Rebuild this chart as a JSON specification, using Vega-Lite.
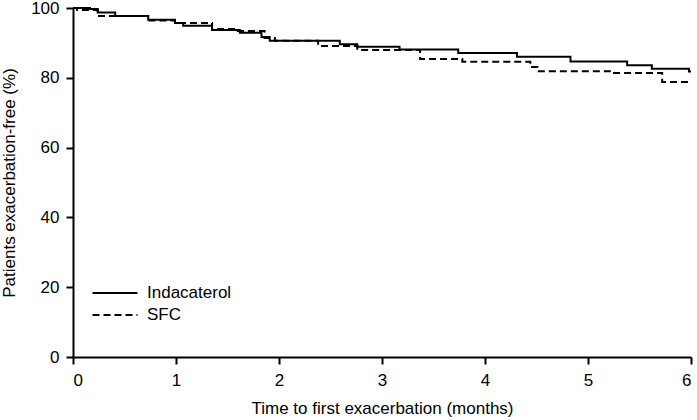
{
  "$schema": "https://vega.github.io/schema/vega-lite/v6.json",
  "width": 618,
  "height": 349,
  "autosize": "none",
  "padding": {"left": 73, "top": 8, "right": 6, "bottom": 63},
  "background": "white",
  "config": {
    "font": "Liberation Sans",
    "view": {"stroke": null},
    "axis": {
      "grid": false,
      "domainColor": "black",
      "domainWidth": 2,
      "tickColor": "black",
      "tickWidth": 2,
      "labelColor": "black",
      "titleColor": "black",
      "labelFontSize": 17,
      "titleFontSize": 17,
      "titleFontWeight": "normal",
      "labelFont": "Liberation Sans",
      "titleFont": "Liberation Sans"
    }
  },
  "data": {
    "values": [
      {"series": "Indacaterol", "month": 0, "pct": 100},
      {"series": "Indacaterol", "month": 0.165, "pct": 99.7},
      {"series": "Indacaterol", "month": 0.24, "pct": 98.7},
      {"series": "Indacaterol", "month": 0.41, "pct": 97.7},
      {"series": "Indacaterol", "month": 0.73, "pct": 96.6},
      {"series": "Indacaterol", "month": 0.99, "pct": 95.7},
      {"series": "Indacaterol", "month": 1.07, "pct": 94.9},
      {"series": "Indacaterol", "month": 1.35, "pct": 93.7},
      {"series": "Indacaterol", "month": 1.62, "pct": 92.9},
      {"series": "Indacaterol", "month": 1.83, "pct": 91.7},
      {"series": "Indacaterol", "month": 1.91, "pct": 90.6},
      {"series": "Indacaterol", "month": 2.59, "pct": 89.6},
      {"series": "Indacaterol", "month": 2.76, "pct": 88.9},
      {"series": "Indacaterol", "month": 3.17, "pct": 88.1},
      {"series": "Indacaterol", "month": 3.74, "pct": 87.1},
      {"series": "Indacaterol", "month": 4.31, "pct": 86.0},
      {"series": "Indacaterol", "month": 4.83, "pct": 84.7},
      {"series": "Indacaterol", "month": 5.38, "pct": 83.6},
      {"series": "Indacaterol", "month": 5.62, "pct": 82.6},
      {"series": "Indacaterol", "month": 5.98, "pct": 81.8},
      {"series": "Indacaterol", "month": 6.0, "pct": 81.8},
      {"series": "SFC", "month": 0, "pct": 100},
      {"series": "SFC", "month": 0.04, "pct": 99.4},
      {"series": "SFC", "month": 0.24, "pct": 97.7},
      {"series": "SFC", "month": 0.73, "pct": 96.4},
      {"series": "SFC", "month": 0.99, "pct": 95.7},
      {"series": "SFC", "month": 1.35, "pct": 94.0},
      {"series": "SFC", "month": 1.6, "pct": 93.4},
      {"series": "SFC", "month": 1.86, "pct": 91.4},
      {"series": "SFC", "month": 1.96, "pct": 90.6},
      {"series": "SFC", "month": 2.38, "pct": 89.1},
      {"series": "SFC", "month": 2.76, "pct": 88.0},
      {"series": "SFC", "month": 3.37, "pct": 85.4},
      {"series": "SFC", "month": 3.78, "pct": 84.6},
      {"series": "SFC", "month": 4.44, "pct": 83.1},
      {"series": "SFC", "month": 4.51, "pct": 81.9},
      {"series": "SFC", "month": 5.23, "pct": 81.4},
      {"series": "SFC", "month": 5.72, "pct": 78.8},
      {"series": "SFC", "month": 6.0, "pct": 78.8}
    ]
  },
  "mark": {"type": "line", "interpolate": "step-after", "color": "black", "strokeWidth": 2},
  "encoding": {
    "x": {
      "field": "month",
      "type": "quantitative",
      "scale": {"domain": [0, 6], "nice": false, "zero": false},
      "axis": {"values": [0, 1, 2, 3, 4, 5, 6], "format": "d", "title": "Time to first exacerbation (months)", "tickSize": 7, "labelPadding": 8, "titlePadding": 12}
    },
    "y": {
      "field": "pct",
      "type": "quantitative",
      "scale": {"domain": [0, 100], "nice": false},
      "axis": {"values": [0, 20, 40, 60, 80, 100], "title": "Patients exacerbation-free (%)", "tickSize": 7, "labelPadding": 7, "titlePadding": 12}
    },
    "strokeDash": {
      "field": "series",
      "type": "nominal",
      "scale": {"domain": ["Indacaterol", "SFC"], "range": [[1, 0], [7, 4]]},
      "legend": {
        "title": null,
        "orient": "none",
        "legendX": 31,
        "legendY": 274,
        "symbolType": "M-2.25,0H2.25",
        "symbolSize": 400,
        "symbolStrokeWidth": 2,
        "symbolStrokeColor": "black",
        "symbolFillColor": "transparent",
        "labelFontSize": 17,
        "labelColor": "black",
        "labelFont": "Liberation Sans",
        "rowPadding": 3,
        "labelOffset": 21
      }
    }
  }
}
